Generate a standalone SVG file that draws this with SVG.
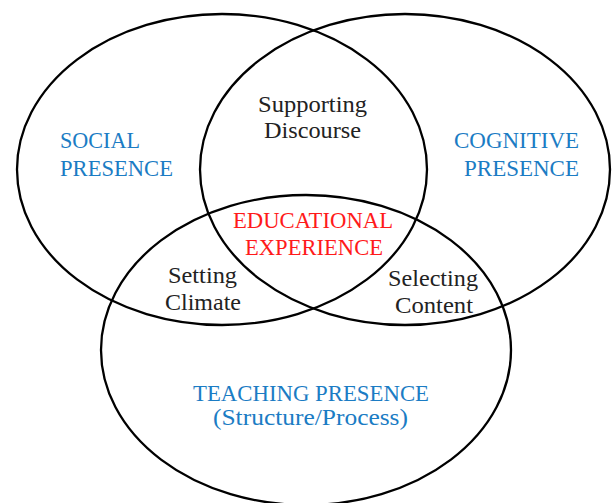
<svg xmlns="http://www.w3.org/2000/svg" width="612" height="503" viewBox="0 0 612 503">
<style>
.c{fill:none;stroke:#000;stroke-width:2.3}
text{font-family:"Liberation Serif","Times New Roman",serif;font-size:24px}
.k{fill:#222}
.b{fill:#1b7cc4}
.r{fill:#ff1a1a}
</style>
<rect width="612" height="503" fill="#fff"/>
<g id="connectors"></g>
<g id="social">
<ellipse class="c" cx="222" cy="169.5" rx="205" ry="155.5"/>
<text class="b" x="60" y="148" textLength="80" lengthAdjust="spacingAndGlyphs">SOCIAL</text>
<text class="b" x="60" y="176" textLength="113" lengthAdjust="spacingAndGlyphs">PRESENCE</text>
</g>
<g id="cognitive">
<ellipse class="c" cx="405" cy="169.5" rx="205" ry="155.5"/>
<text class="b" x="454" y="148" textLength="125" lengthAdjust="spacingAndGlyphs">COGNITIVE</text>
<text class="b" x="464" y="176" textLength="115" lengthAdjust="spacingAndGlyphs">PRESENCE</text>
</g>
<g id="teaching">
<ellipse class="c" cx="306" cy="350" rx="205" ry="155"/>
<text class="b" x="193" y="401" textLength="236" lengthAdjust="spacingAndGlyphs">TEACHING PRESENCE</text>
<text class="b" x="213" y="425" textLength="195" lengthAdjust="spacingAndGlyphs">(Structure/Process)</text>
</g>
<g id="supporting">
<text class="k" x="258" y="112" textLength="109" lengthAdjust="spacingAndGlyphs">Supporting</text>
<text class="k" x="264" y="138" textLength="97" lengthAdjust="spacingAndGlyphs">Discourse</text>
</g>
<g id="educational">
<text class="r" x="233" y="228" textLength="160" lengthAdjust="spacingAndGlyphs">EDUCATIONAL</text>
<text class="r" x="245" y="255" textLength="138" lengthAdjust="spacingAndGlyphs">EXPERIENCE</text>
</g>
<g id="setting">
<text class="k" x="168" y="283" textLength="69" lengthAdjust="spacingAndGlyphs">Setting</text>
<text class="k" x="165" y="310" textLength="76" lengthAdjust="spacingAndGlyphs">Climate</text>
</g>
<g id="selecting">
<text class="k" x="388" y="286" textLength="90" lengthAdjust="spacingAndGlyphs">Selecting</text>
<text class="k" x="395" y="313" textLength="78" lengthAdjust="spacingAndGlyphs">Content</text>
</g>
</svg>
